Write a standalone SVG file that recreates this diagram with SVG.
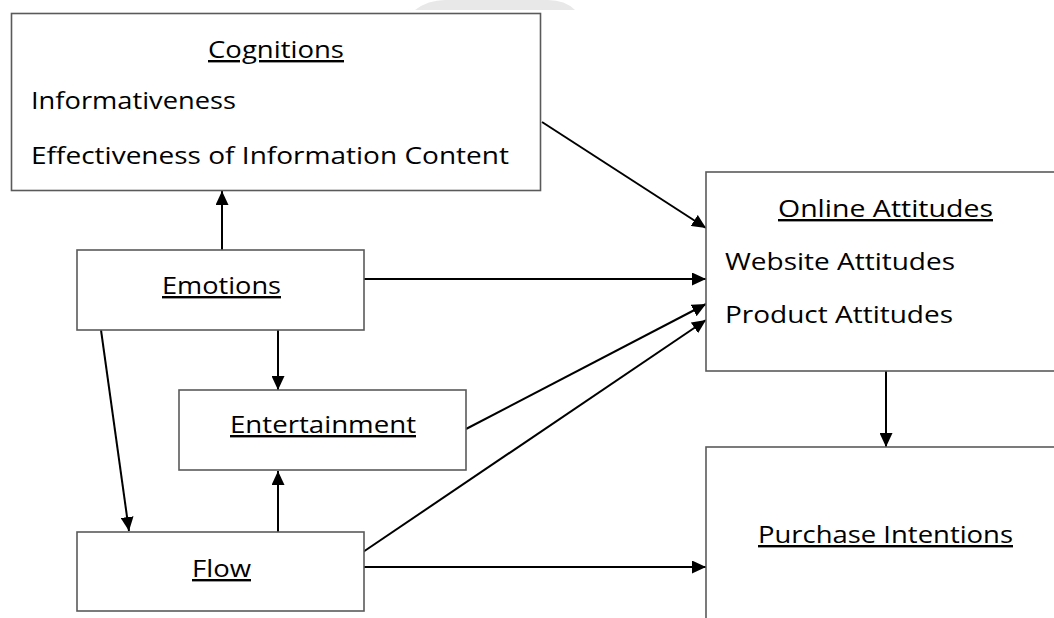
<svg xmlns="http://www.w3.org/2000/svg" width="1054" height="618" viewBox="0 0 1054 618">
  <style>
    .box { fill: #ffffff; stroke: #5a5a5a; stroke-width: 1.6; }
    .t { font-family: "Open Sans", "DejaVu Sans", sans-serif; font-size: 24px; fill: #000000; }
    .u { text-decoration: underline; }
    .c { stroke: #000000; stroke-width: 2; fill: none; marker-end: url(#arr); }
  </style>
  <defs>
    <marker id="arr" markerUnits="userSpaceOnUse" markerWidth="15" markerHeight="13" refX="14" refY="6.5" orient="auto">
      <path d="M0,0 L14,6.5 L0,13 Z" fill="#000000"/>
    </marker>
  </defs>
  <rect x="0" y="0" width="1054" height="618" fill="#ffffff"/>
  <path d="M415,10 Q428,0 445,0 L548,0 Q565,0 575,10 Z" fill="#e8e8e8"/>

  <g id="connectors">
    <line class="c" x1="222" y1="250" x2="222" y2="191"/>
    <line class="c" x1="542" y1="122" x2="706" y2="228"/>
    <line class="c" x1="364" y1="279" x2="706" y2="279"/>
    <line class="c" x1="278" y1="330" x2="278" y2="390"/>
    <line class="c" x1="101" y1="330" x2="129" y2="531"/>
    <line class="c" x1="278" y1="532" x2="278" y2="471"/>
    <line class="c" x1="466" y1="429" x2="706" y2="304"/>
    <line class="c" x1="363" y1="552" x2="706" y2="320"/>
    <line class="c" x1="364" y1="567" x2="706" y2="567"/>
    <line class="c" x1="886" y1="371" x2="886" y2="447"/>
  </g>

  <g id="cognitions">
    <rect class="box" x="11.5" y="13.5" width="529" height="177"/>
    <text class="t u" x="208" y="58" textLength="136" lengthAdjust="spacingAndGlyphs">Cognitions</text>
    <text class="t" x="31" y="109" textLength="205" lengthAdjust="spacingAndGlyphs">Informativeness</text>
    <text class="t" x="31" y="164" textLength="478" lengthAdjust="spacingAndGlyphs">Effectiveness of Information Content</text>
  </g>

  <g id="online-attitudes">
    <rect class="box" x="706" y="172" width="360" height="199"/>
    <text class="t u" x="778" y="217" textLength="215" lengthAdjust="spacingAndGlyphs">Online Attitudes</text>
    <text class="t" x="725" y="270" textLength="230" lengthAdjust="spacingAndGlyphs">Website Attitudes</text>
    <text class="t" x="725" y="323" textLength="228" lengthAdjust="spacingAndGlyphs">Product Attitudes</text>
  </g>

  <g id="emotions">
    <rect class="box" x="77" y="250" width="287" height="80"/>
    <text class="t u" x="162" y="294" textLength="119" lengthAdjust="spacingAndGlyphs">Emotions</text>
  </g>

  <g id="entertainment">
    <rect class="box" x="179" y="390" width="287" height="80"/>
    <text class="t u" x="230" y="433" textLength="186" lengthAdjust="spacingAndGlyphs">Entertainment</text>
  </g>

  <g id="flow">
    <rect class="box" x="77" y="532" width="287" height="79"/>
    <text class="t u" x="192" y="577" textLength="59" lengthAdjust="spacingAndGlyphs">Flow</text>
  </g>

  <g id="purchase-intentions">
    <rect class="box" x="706" y="447" width="360" height="200"/>
    <text class="t u" x="758" y="543" textLength="255" lengthAdjust="spacingAndGlyphs">Purchase Intentions</text>
  </g>
</svg>
